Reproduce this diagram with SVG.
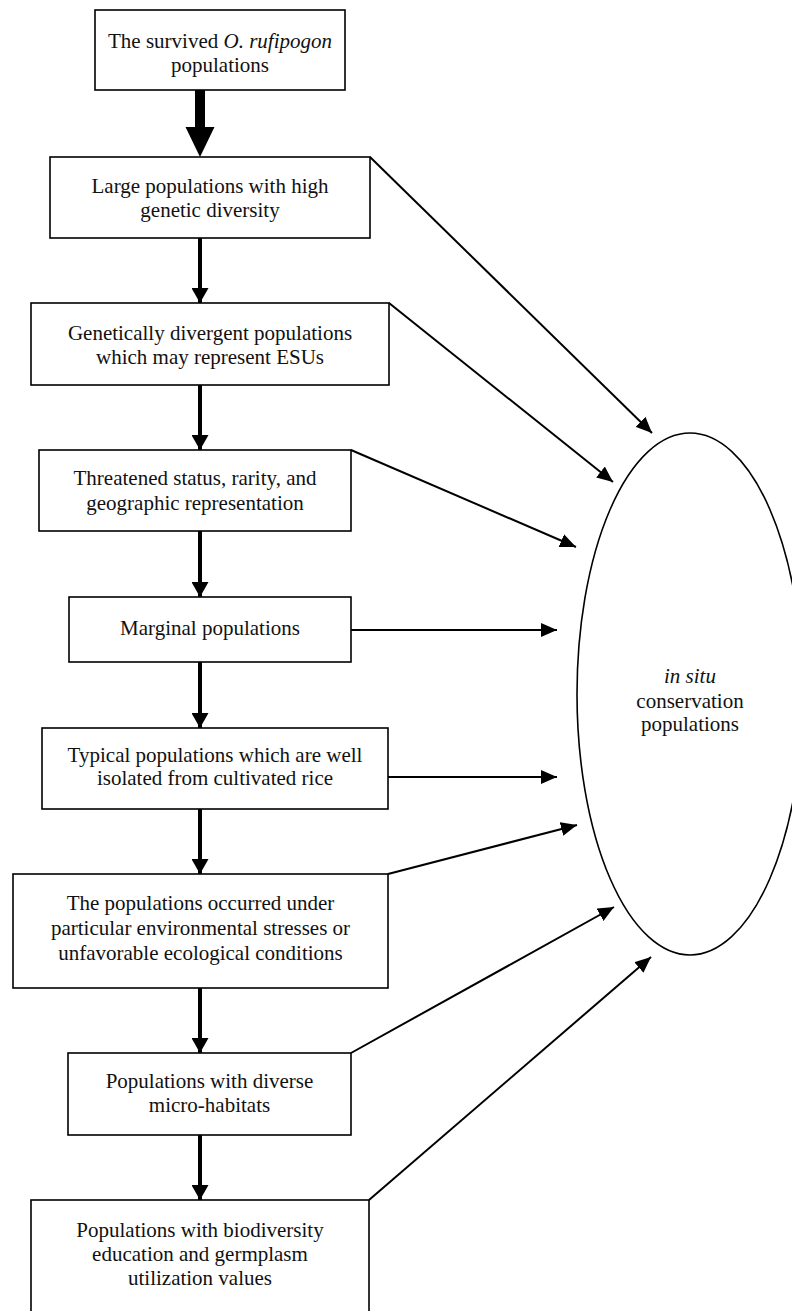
<svg xmlns="http://www.w3.org/2000/svg" width="792" height="1311" viewBox="0 0 792 1311">
<defs>
<style>
.box{fill:#fff;stroke:#000;stroke-width:1.6}
.t{font-family:"Liberation Serif","Times New Roman",serif;font-size:21px;fill:#111;text-anchor:middle}
.i{font-style:italic}
.c{stroke:#000;stroke-width:2;fill:none}
.v{stroke:#000;stroke-width:4;fill:none}
</style>
<marker id="ah" markerUnits="userSpaceOnUse" markerWidth="16" markerHeight="14" refX="16" refY="7" orient="auto" viewBox="0 0 16 14">
<path d="M0,0 L16,7 L0,14 Z" fill="#000"/>
</marker>
<marker id="vh" markerUnits="userSpaceOnUse" markerWidth="15" markerHeight="17" refX="15" refY="8.5" orient="auto" viewBox="0 0 15 17">
<path d="M0,0 L15,8.5 L0,17 Z" fill="#000"/>
</marker>
</defs>
<rect width="792" height="1311" fill="#fff"/>
<g id="connectors">
<path d="M200,90 V127" stroke="#000" stroke-width="10" fill="none"/>
<polygon points="185.5,127 214.5,127 200,157" fill="#000"/>
<line class="v" x1="200" y1="238" x2="200" y2="303" marker-end="url(#vh)"/>
<line class="v" x1="200" y1="385" x2="200" y2="450" marker-end="url(#vh)"/>
<line class="v" x1="200" y1="531" x2="200" y2="597" marker-end="url(#vh)"/>
<line class="v" x1="200" y1="662" x2="200" y2="728" marker-end="url(#vh)"/>
<line class="v" x1="200" y1="809" x2="200" y2="874" marker-end="url(#vh)"/>
<line class="v" x1="200" y1="988" x2="200" y2="1053" marker-end="url(#vh)"/>
<line class="v" x1="200" y1="1135" x2="200" y2="1200" marker-end="url(#vh)"/>
<line class="c" x1="370" y1="157" x2="652" y2="433" marker-end="url(#ah)"/>
<line class="c" x1="389" y1="303" x2="613" y2="482" marker-end="url(#ah)"/>
<line class="c" x1="351" y1="450" x2="576" y2="547" marker-end="url(#ah)"/>
<line class="c" x1="351" y1="630" x2="557" y2="630" marker-end="url(#ah)"/>
<line class="c" x1="388" y1="777" x2="557" y2="777" marker-end="url(#ah)"/>
<line class="c" x1="388" y1="874" x2="577" y2="825" marker-end="url(#ah)"/>
<line class="c" x1="351" y1="1053" x2="614" y2="907" marker-end="url(#ah)"/>
<line class="c" x1="369" y1="1200" x2="651" y2="957" marker-end="url(#ah)"/>
</g>
<g id="n1">
<rect class="box" x="95" y="10" width="250" height="80"/>
<text class="t" x="220" y="48">The survived <tspan class="i">O. rufipogon</tspan></text>
<text class="t" x="220" y="72">populations</text>
</g>
<g id="n2">
<rect class="box" x="50" y="157" width="320" height="81"/>
<text class="t" x="210" y="193">Large populations with high</text>
<text class="t" x="210" y="217">genetic diversity</text>
</g>
<g id="n3">
<rect class="box" x="31" y="303" width="358" height="82"/>
<text class="t" x="210" y="340">Genetically divergent populations</text>
<text class="t" x="210" y="364">which may represent ESUs</text>
</g>
<g id="n4">
<rect class="box" x="39" y="450" width="312" height="81"/>
<text class="t" x="195" y="485">Threatened status, rarity, and</text>
<text class="t" x="195" y="510">geographic representation</text>
</g>
<g id="n5">
<rect class="box" x="69" y="597" width="282" height="65"/>
<text class="t" x="210" y="635">Marginal populations</text>
</g>
<g id="n6">
<rect class="box" x="42" y="728" width="346" height="81"/>
<text class="t" x="215" y="762">Typical populations which are well</text>
<text class="t" x="215" y="785">isolated from cultivated rice</text>
</g>
<g id="n7">
<rect class="box" x="13" y="874" width="375" height="114"/>
<text class="t" x="200.5" y="910">The populations occurred under</text>
<text class="t" x="200.5" y="935">particular environmental stresses or</text>
<text class="t" x="200.5" y="960">unfavorable ecological conditions</text>
</g>
<g id="n8">
<rect class="box" x="68" y="1053" width="283" height="82"/>
<text class="t" x="209.5" y="1088">Populations with diverse</text>
<text class="t" x="209.5" y="1112">micro-habitats</text>
</g>
<g id="n9">
<rect class="box" x="31" y="1200" width="338" height="130"/>
<text class="t" x="200" y="1237">Populations with biodiversity</text>
<text class="t" x="200" y="1261">education and germplasm</text>
<text class="t" x="200" y="1285">utilization values</text>
</g>
<g id="n10">
<ellipse cx="690" cy="694" rx="113" ry="261" fill="none" stroke="#000" stroke-width="1.6"/>
<text class="t i" x="690" y="683">in situ</text>
<text class="t" x="690" y="708">conservation</text>
<text class="t" x="690" y="731">populations</text>
</g>
</svg>
